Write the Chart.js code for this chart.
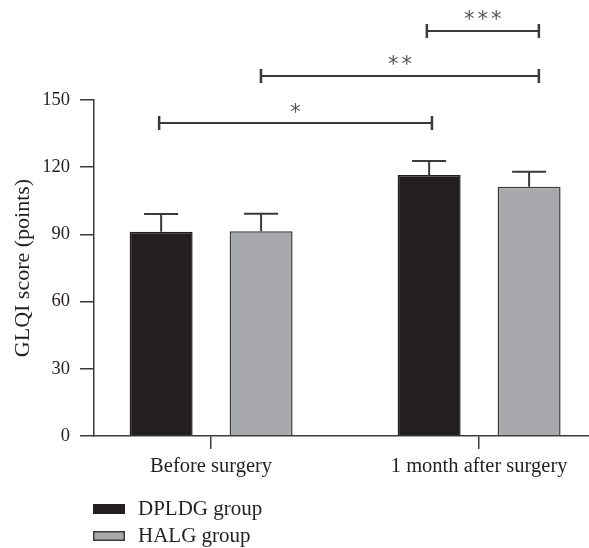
<!DOCTYPE html>
<html>
<head>
<meta charset="utf-8">
<script src="https://cdn.jsdelivr.net/npm/chart.js@4"></script>
<style>
  html, body { margin: 0; padding: 0; background: #fff; }
  #wrap { width: 589px; height: 548px; position: relative; }
</style>
</head>
<body>
<div id="wrap"><canvas id="chart"></canvas></div>
<script>
// data
const groups = ['Before surgery', '1 month after surgery'];
const groupPos = [0, 1];
const seriesNames = ['DPLDG group', 'HALG group'];
const dpldgMean = [91.2, 116.5];
const dpldgErr = [7.9, 6.3];
const halgMean = [91.4, 111.3];
const halgErr = [7.8, 6.7];
const yTicks = [0, 30, 60, 90, 120, 150];

// significance brackets (x in group units, y in points)
const bracketFrom = [-0.194, 0.186, 0.805];
const bracketTo = [0.824, 1.223, 1.223];
const bracketY = [139.7, 160.7, 180.8];
const bracketStars = [1, 2, 3];

const ink = '#231f20';
const line = '#3a3a3a';
const serif = '"Liberation Serif", "DejaVu Serif", serif';

const errBars = {
	id: 'errBars',
	afterDatasetsDraw(chart) {
		const { ctx } = chart;
		const y = chart.scales.y;
		ctx.save();
		ctx.strokeStyle = line;
		ctx.lineWidth = 2;
		chart.data.datasets.forEach((ds, di) => {
			const meta = chart.getDatasetMeta(di);
			meta.data.forEach((bar, i) => {
				const top = y.getPixelForValue(ds.data[i].y + ds.err[i]);
				const half = bar.width * 0.27;
				ctx.beginPath();
				ctx.moveTo(bar.x, bar.y);
				ctx.lineTo(bar.x, top);
				ctx.moveTo(bar.x - half, top);
				ctx.lineTo(bar.x + half, top);
				ctx.stroke();
			});
		});
		ctx.restore();
	}
};

const brackets = {
	id: 'brackets',
	afterDraw(chart) {
		const { ctx } = chart;
		const x = chart.scales.x, y = chart.scales.y;
		ctx.save();
		ctx.strokeStyle = line;
		ctx.fillStyle = '#555';
		ctx.font = '21px "DejaVu Sans", sans-serif';
		ctx.textAlign = 'center';
		ctx.textBaseline = 'middle';
		bracketY.forEach((v, i) => {
			const x0 = x.getPixelForValue(bracketFrom[i]);
			const x1 = x.getPixelForValue(bracketTo[i]);
			const py = y.getPixelForValue(v);
			ctx.lineWidth = 2;
			ctx.beginPath();
			ctx.moveTo(x0, py); ctx.lineTo(x1, py);
			ctx.stroke();
			ctx.lineWidth = 2.5;
			ctx.beginPath();
			ctx.moveTo(x0, py - 7); ctx.lineTo(x0, py + 7);
			ctx.moveTo(x1, py - 7); ctx.lineTo(x1, py + 7);
			ctx.stroke();
			const n = bracketStars[i], cx = (x0 + x1) / 2;
			for (let k = 0; k < n; k++) {
				ctx.fillText('*', cx + (k - (n - 1) / 2) * 13.5, py - 10);
			}
		});
		ctx.restore();
	}
};

const boxLegend = {
	id: 'boxLegend',
	afterDraw(chart) {
		const { ctx } = chart;
		ctx.save();
		ctx.font = '21px ' + serif;
		ctx.textBaseline = 'middle';
		chart.data.datasets.forEach((ds, i) => {
			const cy = 509 + i * 27;
			ctx.fillStyle = ds.backgroundColor;
			ctx.fillRect(93, cy - 5, 32, 10);
			ctx.strokeStyle = ds.borderColor;
			ctx.lineWidth = 1.5;
			ctx.strokeRect(93.75, cy - 4.25, 30.5, 8.5);
			ctx.fillStyle = ink;
			ctx.fillText(ds.label, 138, cy);
		});
		ctx.restore();
	}
};

new Chart(document.getElementById('chart'), {
	type: 'bar',
	data: {
		datasets: [
			{ label: seriesNames[0], data: groupPos.map((g, i) => ({ x: g, y: dpldgMean[i] })), err: dpldgErr,
				backgroundColor: ink, borderColor: ink, borderWidth: 1.5 },
			{ label: seriesNames[1], data: groupPos.map((g, i) => ({ x: g, y: halgMean[i] })), err: halgErr,
				backgroundColor: '#a7a9ac', borderColor: '#3c3c3c', borderWidth: 1.5 }
		]
	},
	options: {
		responsive: true, maintainAspectRatio: false,
		animation: false,
		categoryPercentage: 0.746, barPercentage: 0.63,
		layout: { padding: { top: 100, right: 0, left: 0, bottom: 0 } },
		plugins: { legend: { display: false }, tooltip: { enabled: false } },
		scales: {
			x: {
				type: 'linear', min: -0.437, max: 1.41, offset: false,
				afterFit: s => { s.height = 112; },
				afterBuildTicks: s => { s.ticks = groupPos.map(v => ({ value: v })); },
				border: { color: line, width: 1.5 },
				grid: { offset: false, drawOnChartArea: false, tickLength: 13, color: line, lineWidth: 1.5 },
				ticks: { autoSkip: false, maxRotation: 0, padding: 5, color: ink, font: { family: serif, size: 20.5 },
					callback: (v, i) => groups[i] }
			},
			y: {
				min: 0, max: 150,
				afterFit: s => { s.width = 94; },
				afterBuildTicks: s => { s.ticks = yTicks.map(v => ({ value: v })); },
				border: { color: line, width: 1.5 },
				grid: { drawOnChartArea: false, tickLength: 14, color: line, lineWidth: 1.5 },
				ticks: { padding: 10, color: ink, font: { family: serif, size: 18.5 } },
				title: { display: true, text: 'GLQI score (points)', color: ink, padding: { top: 10, bottom: 0 },
					font: { family: serif, size: 22 } }
			}
		}
	},
	plugins: [errBars, brackets, boxLegend]
});
</script>
</body>
</html>
